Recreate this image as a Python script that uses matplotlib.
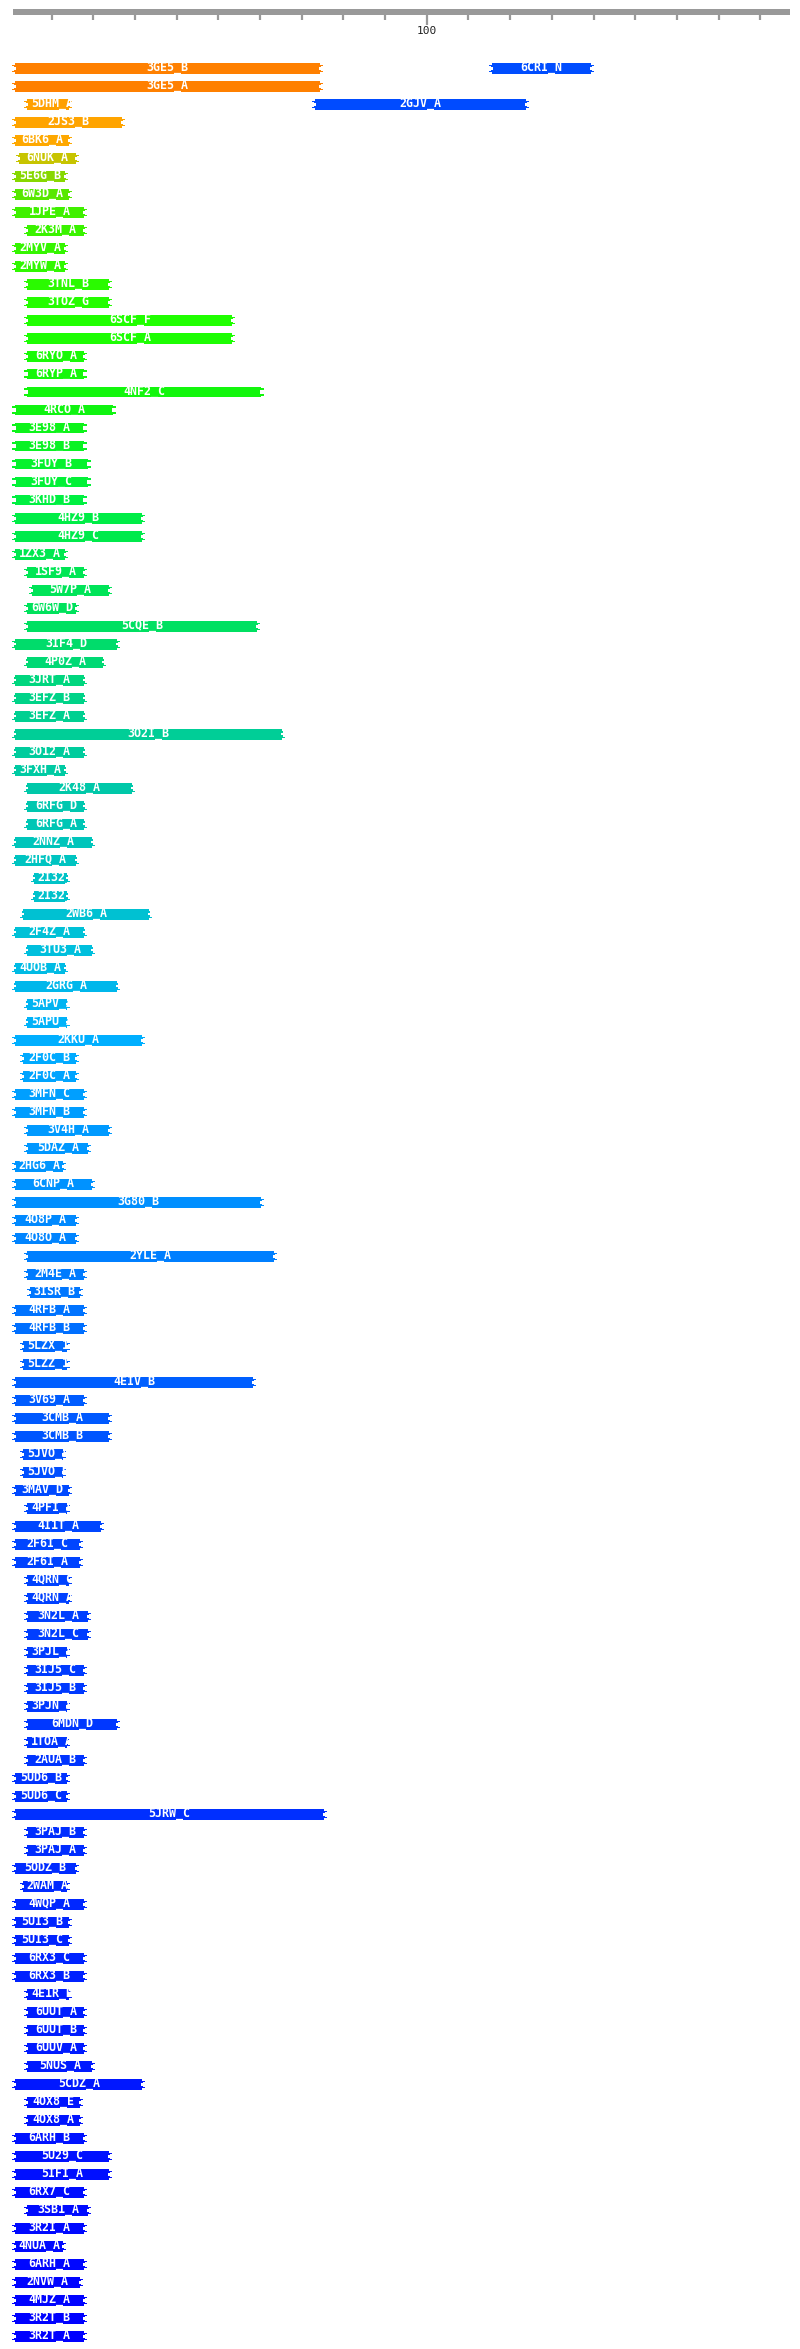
import matplotlib
matplotlib.use('Agg')
import matplotlib.pyplot as plt
from matplotlib.patches import Polygon, Rectangle
from matplotlib.colors import LinearSegmentedColormap
from matplotlib.textpath import TextPath
from matplotlib.font_manager import FontProperties

# hits in rank order: name, query start, query end (residues)
names = ['3GE5_B', '3GE5_A', '5DHM_A', '2JS3_B', '6BK6_A', '6NUK_A', '5E6G_B', '6W3D_A',
         '1JPE_A', '2K3M_A', '2MYV_A', '2MYW_A', '3TNL_B', '3TOZ_G', '6SCF_F', '6SCF_A',
         '6RYO_A', '6RYP_A', '4NF2_C', '4RCO_A', '3E98_A', '3E98_B', '3FUY_B', '3FUY_C',
         '3KHD_B', '4HZ9_B', '4HZ9_C', '1ZX3_A', '1SF9_A', '5W7P_A', '6W6W_D', '5CQE_B',
         '3IF4_D', '4P0Z_A', '3JRT_A', '3EFZ_B', '3EFZ_A', '3O2I_B', '3O12_A', '3FXH_A',
         '2K48_A', '6RFG_D', '6RFG_A', '2NNZ_A', '2HFQ_A', '2I32_A', '2I32_B', '2WB6_A',
         '2F4Z_A', '3TU3_A', '4UOB_A', '2GRG_A', '5APV_A', '5APU_A', '2KKU_A', '2F0C_B',
         '2F0C_A', '3MFN_C', '3MFN_B', '3V4H_A', '5DAZ_A', '2HG6_A', '6CNP_A', '3G80_B',
         '4O8P_A', '4O8O_A', '2YLE_A', '2M4E_A', '3ISR_B', '4RFB_A', '4RFB_B', '5LZX_1',
         '5LZZ_1', '4EIV_B', '3V69_A', '3CMB_A', '3CMB_B', '5JVO_A', '5JVO_B', '6CRI_N',
         '2GJV_A', '3MAV_D', '4PFI_A', '4I1T_A', '2F6I_C', '2F6I_A', '4QRN_C', '4QRN_A',
         '3N2L_A', '3N2L_C', '3PJL_A', '3IJ5_C', '3IJ5_B', '3PJN_A', '6MDN_D', '1TOA_A',
         '2AUA_B', '5UD6_B', '5UD6_C', '5JRW_C', '3PAJ_B', '3PAJ_A', '5ODZ_B', '2WAM_A',
         '4WQP_A', '5UI3_B', '5UI3_C', '6RX3_C', '6RX3_B', '4E1R_B', '6UUT_A', '6UUT_B',
         '6UUV_A', '5NUS_A', '5CDZ_A', '4OX8_E', '4OX8_A', '6ARH_B', '5U29_C', '5IFI_A',
         '6RX7_C', '3SB1_A', '3R2I_A', '4NUA_A', '6ARH_A', '2NVW_A', '4MJZ_A', '3R2T_B',
         '3R2T_A']

q_start = [1, 1, 4, 1, 1, 2, 1, 1,
           1, 4, 1, 1, 4, 4, 4, 4,
           4, 4, 4, 1, 1, 1, 1, 1,
           1, 1, 1, 1, 4, 5, 4, 4,
           1, 4, 1, 1, 1, 1, 1, 1,
           4, 4, 4, 1, 1, 5.5, 5.5, 3,
           1, 4, 1, 1, 4, 4, 1, 3,
           3, 1, 1, 4, 4, 1, 1, 1,
           1, 1, 4, 4, 4.5, 1, 1, 3,
           3, 1, 1, 1, 1, 3, 3, 115.5,
           73, 1, 4, 1, 1, 1, 4, 4,
           4, 4, 4, 4, 4, 4, 4, 4,
           4, 1, 1, 1, 4, 4, 1, 3,
           1, 1, 1, 1, 1, 4, 4, 4,
           4, 4, 1, 4, 4, 1, 1, 1,
           1, 4, 1, 1, 1, 1, 1, 1,
           1]

q_end = [75, 75, 15, 27.5, 15, 16.5, 14, 15,
         18.5, 18.5, 14, 14, 24.5, 24.5, 54, 54,
         18.5, 18.5, 61, 25.5, 18.5, 18.5, 19.5, 19.5,
         18.5, 32.5, 32.5, 14, 18.5, 24.5, 16.5, 60,
         26.5, 23, 18.5, 18.5, 18.5, 66, 18.5, 14,
         30, 18.5, 18.5, 20.5, 16.5, 14.5, 14.5, 34,
         18.5, 20.5, 14, 26.5, 14.5, 14.5, 32.5, 16.5,
         16.5, 18.5, 18.5, 24.5, 19.5, 13.5, 20.5, 61,
         16.5, 16.5, 64, 18.5, 17.5, 18.5, 18.5, 14.5,
         14.5, 59, 18.5, 24.5, 24.5, 13.5, 13.5, 140,
         124.5, 15, 14.5, 22.5, 17.5, 17.5, 15, 15,
         19.5, 19.5, 14.5, 18.5, 18.5, 14.5, 26.5, 14.5,
         18.5, 14.5, 14.5, 76, 18.5, 18.5, 16.5, 14.5,
         18.5, 15, 15, 18.5, 18.5, 15, 18.5, 18.5,
         18.5, 20.5, 32.5, 17.5, 17.5, 18.5, 24.5, 24.5,
         18.5, 19.5, 18.5, 13.5, 18.5, 17.5, 18.5, 18.5,
         18.5]

ruler_start, ruler_end = 0.75, 187
tick_values = list(range(10, 190, 10))
labelled_ticks = [100]

# colour by rank
rank_colors = [(0, '#FF8000'), (1, '#FF8000'), (2, '#FFA000'), (4, '#FFA800'),
               (5, '#C8C400'), (6, '#88D800'), (7, '#58E800'), (8, '#40F000'),
               (14, '#20FF00'), (19, '#10F410'), (24, '#00F040'), (27, '#00E850'),
               (31, '#00E060'), (36, '#00D090'), (40, '#00C8A8'), (44, '#00C4C0'),
               (49, '#00C0DC'), (52, '#00B4F0'), (54, '#00B0FF'), (57, '#00A0FF'),
               (63, '#0090FF'), (66, '#0080FF'), (70, '#0070FF'), (73, '#0060FF'),
               (78, '#0050FF'), (82, '#0048FF'), (99, '#0030FF'), (114, '#0018FF'),
               (128, '#0000FF')]
n = len(names)
cmap = LinearSegmentedColormap.from_list(
    'rank', [(r / (n - 1), c) for r, c in rank_colors])

# pixel geometry
W, H = 800, 2349
PX0 = 9.9       # pixel of residue 0
PXR = 4.169     # pixels per residue
ROW0 = 68       # pixel centre of first row
ROWH = 18       # pixels per row
BAR_H = 11

# label font sized so caps + underscore fit inside the bar
fp1 = FontProperties(family='DejaVu Sans Mono', weight='bold', size=1)
cap_top = TextPath((0, 0), 'H', prop=fp1).get_extents().y1 * 100 / 72
und_bot = -TextPath((0, 0), '_', prop=fp1).get_extents().y0 * 100 / 72
FS = 11.2 / (cap_top + und_bot)
BASE = 5.6 - und_bot * FS          # baseline offset below row centre, px
CHAR_W = 0.602 * FS * 100 / 72

fig = plt.figure(figsize=(W / 100, H / 100), dpi=100)
ax = fig.add_axes([0, 0, 1, 1])
ax.set_xlim(-PX0 / PXR, (W - PX0) / PXR)
ax.set_ylim((H - ROW0) / ROWH, -ROW0 / ROWH)
ax.axis('off')

# greedy row packing
rows = []
row_of = []
for s, e in zip(q_start, q_end):
    placed = False
    for r, spans in enumerate(rows):
        if all(e < a - 1 or s > b + 1 for a, b in spans):
            spans.append((s, e))
            row_of.append(r)
            placed = True
            break
    if not placed:
        rows.append([(s, e)])
        row_of.append(len(rows) - 1)

notch = [3, 3, 0, 2, 4, 4, 4, 2, 0, 3, 3]


def bar_poly(x0, x1, yc):
    top = yc - (BAR_H / 2) / ROWH
    pts = []
    for i, o in enumerate(notch):
        pts += [(x0 + o / PXR, top + i / ROWH), (x0 + o / PXR, top + (i + 1) / ROWH)]
    for i in reversed(range(len(notch))):
        o = notch[i]
        pts += [(x1 - o / PXR, top + (i + 1) / ROWH), (x1 - o / PXR, top + i / ROWH)]
    return pts


for i, (name, s, e, r) in enumerate(zip(names, q_start, q_end, row_of)):
    col = cmap(i / (n - 1))
    x0, x1 = s - 0.5, e
    poly = Polygon(bar_poly(x0, x1, r), closed=True, facecolor=col,
                   edgecolor='none', antialiased=False)
    ax.add_patch(poly)
    w = len(name) * CHAR_W / PXR
    left = max(x0 + 6.5 / PXR, (x0 + x1) / 2 - w / 2)
    t = ax.text(left, r + BASE / ROWH, name, ha='left', va='baseline',
                color='white', fontsize=FS, fontweight='bold',
                family='DejaVu Sans Mono')
    clip = Rectangle((x0 + 2 / PXR, r - 9 / ROWH), x1 - x0 - 4 / PXR, 18 / ROWH,
                     transform=ax.transData)
    t.set_clip_path(clip)

# ruler
ry0, ry1 = (9 - ROW0) / ROWH, (15 - ROW0) / ROWH
ax.add_patch(Rectangle((ruler_start, ry0), ruler_end - ruler_start, ry1 - ry0,
                       facecolor='#999999', edgecolor='none', antialiased=False))
for tv in tick_values:
    bottom = 25 if tv in labelled_ticks else 20
    ax.plot([tv, tv], [ry1, (bottom - ROW0) / ROWH], color='#999999', lw=1.6,
            solid_capstyle='butt')
    if tv in labelled_ticks:
        ax.text(tv, (31 - ROW0) / ROWH, str(tv), ha='center', va='center',
                fontsize=8, color='#222222', family='DejaVu Sans Mono')

fig.savefig('out.png', dpi=100)
